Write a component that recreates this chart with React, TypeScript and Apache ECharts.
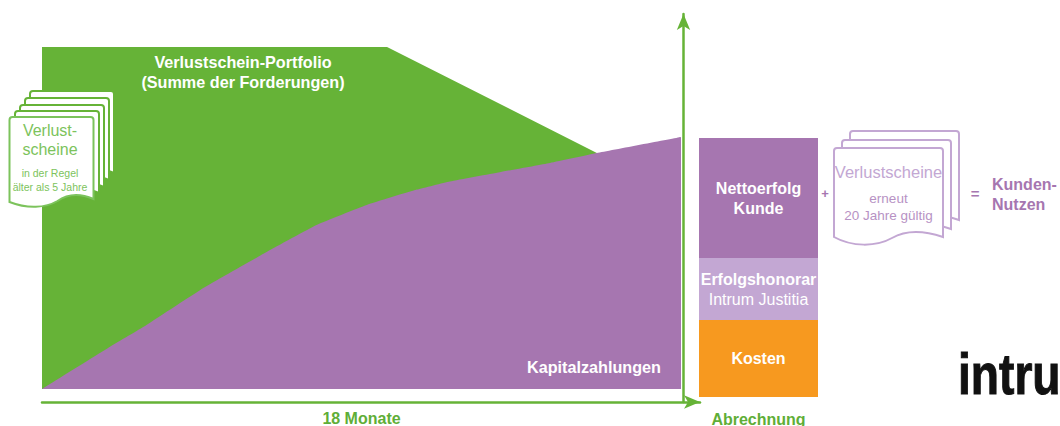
import React, { useEffect, useRef } from "react";
import * as echarts from "echarts";

const GREEN = "#66B337";
const PURPLE = "#A676B0";
const LIGHT = "#C3A7D3";
const ORANGE = "#F7991F";
const FONT = '"Liberation Sans", Arial, sans-serif';

const portfolio = [[0, 100], [9.72, 100], [15.63, 69], [18, 56.7]];
const payments = [[0, 0], [1.86, 12], [2.85, 18.1], [4.45, 28.9], [6.34, 40.1], [7.75, 48], [9.15, 53.8], [10.56, 58.3], [11.49, 60.7], [12.9, 63.4], [14.31, 66.1], [15.63, 69], [18, 73.7]];
const netResult = [34.3];
const successFee = [17.7];
const costs = [22];
const settlement = ["Abrechnung"];

const sheetA = "M0,3 Q0,0 3,0 L81,0 Q84,0 84,3 L84,82 C70,76 58,77 48,84 C36,91 18,92 0,85 Z";
const sheetB = "M0,3 Q0,0 3,0 L106,0 Q109,0 109,3 L109,89 C88,82 72,82 58,90 C42,99 18,99 0,89 Z";
echarts.graphic.registerShape("sheetA", echarts.graphic.extendPath(sheetA, {}));
echarts.graphic.registerShape("sheetB", echarts.graphic.extendPath(sheetB, {}));

const sheet = (type: string, x: number, y: number, stroke: string, lineWidth: number) => ({
  type, x, y, z: 10, silent: true, style: { fill: "#fff", stroke, lineWidth },
});
const text = (x: number, y: number, t: string, fontSize: number, fill: string, fontWeight = "normal", textAlign = "center", lineHeight = fontSize * 1.3) => ({
  type: "text", x, y, z: 11, silent: true,
  style: { text: t, fontSize, fill, fontWeight, textAlign, textVerticalAlign: "middle", fontFamily: FONT, lineHeight },
});

export default function App() {
  const ref = useRef<HTMLDivElement>(null);
  useEffect(() => {
    const chart = echarts.init(ref.current!, undefined, { renderer: "svg" });
    const logo: any = text(958, 374, "intru", 57, "#111", "bold", "left");
    logo.scaleX = 0.81;
    logo.style.stroke = "#111";
    logo.style.lineWidth = 1;
    chart.setOption({
      animation: false,
      backgroundColor: "#fff",
      grid: [
        { left: 42, top: 47, width: 639, height: 342, outerBoundsMode: "none" },
        { left: 699, top: 47, width: 119, height: 350, outerBoundsMode: "none" },
        { left: 42, top: 14, width: 658, height: 388, outerBoundsMode: "none" },
      ],
      xAxis: [
        {
          gridIndex: 0, type: "value", min: 0, max: 18, name: "18 Monate", nameLocation: "middle", nameGap: 21,
          nameTextStyle: { color: "#5FAE37", fontWeight: "bold", fontSize: 16, fontFamily: FONT },
          axisLine: { show: false }, axisTick: { show: false }, axisLabel: { show: false }, splitLine: { show: false },
        },
        {
          gridIndex: 1, type: "category", data: settlement,
          axisLine: { show: false }, axisTick: { show: false },
          axisLabel: { color: "#5FAE37", fontWeight: "bold", fontSize: 16, fontFamily: FONT, margin: 14 },
        },
        {
          gridIndex: 2, type: "value", min: 0, max: 1,
          axisLine: { show: true, onZero: false, symbol: ["none", "arrow"], symbolSize: [10, 16], lineStyle: { color: GREEN, width: 2.5 } },
          axisTick: { show: false }, axisLabel: { show: false }, splitLine: { show: false },
        },
      ],
      yAxis: [
        { gridIndex: 0, type: "value", min: 0, max: 100, show: false },
        { gridIndex: 1, type: "value", min: 0, max: 100, show: false },
        {
          gridIndex: 2, type: "value", min: 0, max: 1, position: "right", offset: -16.5,
          axisLine: { show: true, onZero: false, symbol: ["none", "arrow"], symbolSize: [10, 16], lineStyle: { color: GREEN, width: 2.5 } },
          axisTick: { show: false }, axisLabel: { show: false }, splitLine: { show: false },
        },
      ],
      series: [
        {
          name: "Verlustschein-Portfolio", type: "line", xAxisIndex: 0, yAxisIndex: 0, data: portfolio,
          symbol: "none", lineStyle: { width: 0 }, itemStyle: { color: GREEN },
          areaStyle: { color: GREEN, opacity: 1 }, z: 2,
        },
        {
          name: "Kapitalzahlungen", type: "line", xAxisIndex: 0, yAxisIndex: 0, data: payments, smooth: 0.15,
          symbol: "none", lineStyle: { width: 0 }, itemStyle: { color: PURPLE },
          areaStyle: { color: PURPLE, opacity: 1 }, z: 3,
        },
        {
          name: "Kosten", type: "bar", stack: "a", xAxisIndex: 1, yAxisIndex: 1, data: costs, barWidth: 119,
          itemStyle: { color: ORANGE },
          label: { show: true, position: "inside", formatter: "Kosten", color: "#fff", fontWeight: "bold", fontSize: 16, fontFamily: FONT },
        },
        {
          name: "Erfolgshonorar", type: "bar", stack: "a", xAxisIndex: 1, yAxisIndex: 1, data: successFee, barWidth: 119,
          itemStyle: { color: LIGHT },
          label: {
            show: true, position: "inside", formatter: "{a|Erfolgshonorar}\n{b|Intrum Justitia}",
            rich: {
              a: { color: "#fff", fontWeight: "bold", fontSize: 16, fontFamily: FONT, lineHeight: 20 },
              b: { color: "#fff", fontSize: 16, fontFamily: FONT, lineHeight: 20 },
            },
          },
        },
        {
          name: "Nettoerfolg Kunde", type: "bar", stack: "a", xAxisIndex: 1, yAxisIndex: 1, data: netResult, barWidth: 119,
          itemStyle: { color: PURPLE },
          label: { show: true, position: "inside", formatter: "Nettoerfolg\nKunde", color: "#fff", fontWeight: "bold", fontSize: 16, lineHeight: 20, fontFamily: FONT },
        },
      ],
      graphic: [
        text(243, 72, "Verlustschein-Portfolio\n(Summe der Forderungen)", 16.2, "#fff", "bold", "center", 20),
        text(661, 367, "Kapitalzahlungen", 16.2, "#fff", "bold", "right"),
        sheet("sheetA", 30, 91, GREEN, 2),
        sheet("sheetA", 25, 98, GREEN, 2),
        sheet("sheetA", 20, 105, GREEN, 2),
        sheet("sheetA", 15, 111, GREEN, 2),
        sheet("sheetA", 9.5, 117, "#7CC35C", 2),
        text(50, 140, "Verlust-\nscheine", 16, "#7CC35C", "normal", "center", 19),
        text(50, 180, "in der Regel\nälter als 5 Jahre", 10.5, "#7CC35C", "normal", "center", 14),
        sheet("sheetB", 850, 131, LIGHT, 2),
        sheet("sheetB", 842, 140, LIGHT, 2),
        sheet("sheetB", 834, 148, LIGHT, 2),
        text(888.5, 172, "Verlustscheine", 16.5, LIGHT, "normal"),
        text(888.5, 207, "erneut\n20 Jahre gültig", 13.5, "#B792C4", "normal", "center", 17),
        text(825, 193, "+", 13, PURPLE, "bold"),
        text(975, 193, "=", 15, PURPLE, "bold"),
        text(992, 194, "Kunden-\nNutzen", 16, PURPLE, "bold", "left", 20),
        logo,
      ],
    });
    return () => chart.dispose();
  }, []);
  return <div ref={ref} style={{ position: "fixed", left: 0, top: 0, width: 1060, height: 426 }} />;
}
